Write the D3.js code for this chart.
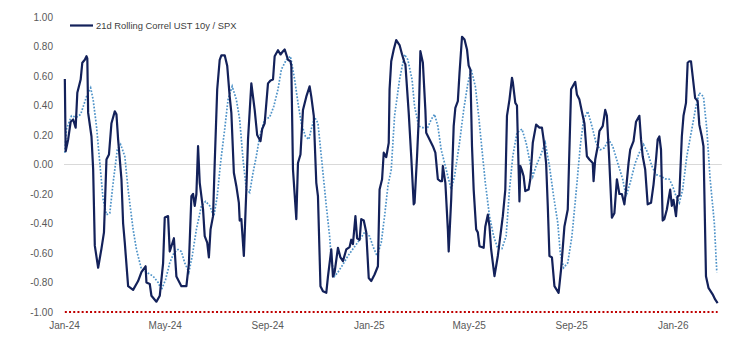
<!DOCTYPE html>
<html>
<head>
<meta charset="utf-8">
<script src="https://cdn.jsdelivr.net/npm/d3@7/dist/d3.min.js"></script>
<style>
  body { margin: 0; background: #ffffff; }
  svg { display: block; }
  text { font-family: "Liberation Sans", Arial, sans-serif; }
</style>
</head>
<body>
<svg id="chart" width="753" height="340"></svg>
<script>
// 21-day rolling correlation, UST 10y vs SPX
const rollingCorr = [
  ["2024-01-02",0.58],["2024-01-03",0.09],["2024-01-06",0.17],["2024-01-09",0.29],["2024-01-12",0.305],
  ["2024-01-15",0.25],["2024-01-17",0.486],["2024-01-21",0.576],["2024-01-23",0.69],["2024-01-26",0.71],
  ["2024-01-28",0.734],["2024-01-29",0.72],["2024-01-30",0.35],["2024-02-03",0.19],["2024-02-05",-0.03],
  ["2024-02-07",-0.55],["2024-02-11",-0.70],["2024-02-15",-0.57],["2024-02-18",-0.46],["2024-02-21",0.034],
  ["2024-02-24",0.068],["2024-02-27",0.28],["2024-03-02",0.36],["2024-03-04",0.34],["2024-03-06",0.17],
  ["2024-03-10",-0.10],["2024-03-12",-0.40],["2024-03-14",-0.53],["2024-03-18",-0.825],["2024-03-24",-0.85],
  ["2024-03-30",-0.79],["2024-04-03",-0.73],["2024-04-08",-0.69],["2024-04-09",-0.80],["2024-04-13",-0.81],
  ["2024-04-15",-0.89],["2024-04-21",-0.93],["2024-04-25",-0.89],["2024-04-29",-0.67],["2024-05-01",-0.36],
  ["2024-05-05",-0.35],["2024-05-07",-0.59],["2024-05-12",-0.50],["2024-05-15",-0.76],["2024-05-21",-0.825],
  ["2024-05-27",-0.825],["2024-05-30",-0.67],["2024-06-02",-0.215],["2024-06-04",-0.20],["2024-06-06",-0.28],
  ["2024-06-08",-0.20],["2024-06-10",0.124],["2024-06-12",-0.124],["2024-06-16",-0.305],["2024-06-18",-0.486],
  ["2024-06-21",-0.53],["2024-06-23",-0.63],["2024-06-25",-0.44],["2024-06-28",-0.35],["2024-06-30",0.01],
  ["2024-07-03",0.51],["2024-07-06",0.71],["2024-07-08",0.74],["2024-07-12",0.74],["2024-07-15",0.67],
  ["2024-07-18",0.46],["2024-07-20",0.35],["2024-07-23",-0.056],["2024-07-26",-0.147],["2024-07-29",-0.26],
  ["2024-07-30",-0.38],["2024-08-01",-0.37],["2024-08-04",-0.62],["2024-08-07",-0.17],["2024-08-09",0.17],
  ["2024-08-13",0.55],["2024-08-15",0.46],["2024-08-17",0.37],["2024-08-20",0.20],["2024-08-24",0.158],
  ["2024-08-26",0.24],["2024-08-29",0.28],["2024-09-02",0.55],["2024-09-05",0.57],["2024-09-08",0.576],
  ["2024-09-10",0.734],["2024-09-14",0.775],["2024-09-17",0.746],["2024-09-20",0.768],["2024-09-22",0.78],
  ["2024-09-26",0.71],["2024-09-29",0.70],["2024-09-30",0.67],["2024-10-02",-0.034],["2024-10-06",-0.37],
  ["2024-10-08",0.01],["2024-10-11",0.068],["2024-10-14",0.37],["2024-10-18",0.46],["2024-10-22",0.53],
  ["2024-10-24",0.46],["2024-10-27",0.33],["2024-10-28",0.17],["2024-10-30",-0.124],["2024-11-01",-0.215],
  ["2024-11-04",-0.825],["2024-11-07",-0.86],["2024-11-11",-0.87],["2024-11-13",-0.76],["2024-11-17",-0.576],
  ["2024-11-19",-0.76],["2024-11-21",-0.73],["2024-11-25",-0.565],["2024-11-28",-0.63],["2024-12-01",-0.655],
  ["2024-12-05",-0.576],["2024-12-09",-0.56],["2024-12-11",-0.51],["2024-12-13",-0.54],["2024-12-16",-0.35],
  ["2024-12-18",-0.50],["2024-12-21",-0.51],["2024-12-23",-0.37],["2024-12-26",-0.38],["2024-12-29",-0.46],
  ["2025-01-01",-0.77],["2025-01-04",-0.79],["2025-01-08",-0.746],["2025-01-12",-0.69],["2025-01-14",-0.17],
  ["2025-01-17",-0.10],["2025-01-19",0.08],["2025-01-22",0.05],["2025-01-25",0.147],["2025-01-26",0.51],
  ["2025-01-28",0.70],["2025-01-31",0.78],["2025-02-03",0.843],["2025-02-07",0.81],["2025-02-10",0.746],
  ["2025-02-13",0.69],["2025-02-14",0.68],["2025-02-18",0.35],["2025-02-21",0.056],["2025-02-24",-0.27],
  ["2025-02-25",-0.26],["2025-02-28",0.056],["2025-03-02",0.305],["2025-03-04",0.768],["2025-03-07",0.69],
  ["2025-03-10",0.37],["2025-03-11",0.215],["2025-03-15",0.17],["2025-03-19",0.124],["2025-03-22",0.08],
  ["2025-03-25",-0.10],["2025-03-28",-0.113],["2025-03-30",-0.113],["2025-03-31",-0.01],["2025-04-03",-0.124],
  ["2025-04-06",-0.44],["2025-04-07",-0.59],["2025-04-10",-0.237],["2025-04-13",0.26],["2025-04-15",0.384],
  ["2025-04-18",0.43],["2025-04-20",0.62],["2025-04-23",0.866],["2025-04-26",0.847],["2025-04-29",0.78],
  ["2025-05-01",0.67],["2025-05-03",0.644],["2025-05-05",0.124],["2025-05-07",-0.17],["2025-05-10",-0.44],
  ["2025-05-12",-0.46],["2025-05-14",-0.554],["2025-05-19",-0.565],["2025-05-21",-0.42],["2025-05-24",-0.34],
  ["2025-05-26",-0.42],["2025-05-28",-0.576],["2025-06-01",-0.757],["2025-06-05",-0.62],["2025-06-08",-0.486],
  ["2025-06-11",-0.35],["2025-06-14",-0.17],["2025-06-16",0.33],["2025-06-19",0.44],["2025-06-22",0.588],
  ["2025-06-23",0.56],["2025-06-26",0.418],["2025-06-28",0.40],["2025-06-30",-0.034],["2025-07-01",-0.25],
  ["2025-07-02",-0.01],["2025-07-04",-0.04],["2025-07-06",-0.08],["2025-07-08",-0.18],["2025-07-12",-0.17],
  ["2025-07-14",-0.10],["2025-07-17",0.147],["2025-07-21",0.27],["2025-07-25",0.25],["2025-07-28",0.25],
  ["2025-07-30",0.17],["2025-08-02",0.01],["2025-08-04",-0.28],["2025-08-06",-0.62],["2025-08-09",-0.63],
  ["2025-08-12",-0.825],["2025-08-17",-0.87],["2025-08-20",-0.71],["2025-08-24",-0.42],["2025-08-28",-0.305],
  ["2025-09-01",0.51],["2025-09-03",0.53],["2025-09-06",0.56],["2025-09-08",0.475],["2025-09-11",0.44],
  ["2025-09-15",0.33],["2025-09-17",0.28],["2025-09-20",0.056],["2025-09-23",0.034],["2025-09-27",0.01],
  ["2025-09-28",-0.113],["2025-09-30",0.034],["2025-10-03",0.124],["2025-10-05",0.226],["2025-10-09",0.26],
  ["2025-10-12",0.37],["2025-10-14",0.33],["2025-10-16",0.124],["2025-10-17",0.01],["2025-10-20",-0.36],
  ["2025-10-23",-0.33],["2025-10-26",-0.10],["2025-10-29",-0.20],["2025-11-01",-0.20],["2025-11-04",-0.27],
  ["2025-11-06",-0.17],["2025-11-09",0.01],["2025-11-11",0.10],["2025-11-15",0.158],["2025-11-18",0.29],
  ["2025-11-22",0.33],["2025-11-24",0.17],["2025-11-26",0.056],["2025-11-29",-0.034],["2025-12-02",-0.27],
  ["2025-12-06",-0.26],["2025-12-09",-0.136],["2025-12-12",0.034],["2025-12-14",0.17],["2025-12-16",0.19],
  ["2025-12-18",0.10],["2025-12-20",-0.38],["2025-12-22",-0.37],["2025-12-25",-0.305],["2025-12-29",-0.17],
  ["2025-12-31",-0.28],["2026-01-02",-0.24],["2026-01-05",-0.35],["2026-01-07",-0.215],["2026-01-09",-0.21],
  ["2026-01-12",0.19],["2026-01-14",0.33],["2026-01-17",0.418],["2026-01-19",0.69],["2026-01-21",0.70],
  ["2026-01-23",0.70],["2026-01-25",0.60],["2026-01-28",0.45],["2026-01-31",0.43],["2026-02-02",0.27],
  ["2026-02-05",0.19],["2026-02-07",0.124],["2026-02-10",-0.757],["2026-02-13",-0.836],["2026-02-18",-0.88],
  ["2026-02-21",-0.915],["2026-02-24",-0.94]
];

// Smoothed correlation (moving average of the rolling series)
const corrAverage = [
  ["2024-01-02",0.08],["2024-01-04",0.24],["2024-01-10",0.33],["2024-01-16",0.32],["2024-01-21",0.34],
  ["2024-01-28",0.46],["2024-02-02",0.52],["2024-02-05",0.44],["2024-02-09",0.26],["2024-02-13",0.01],
  ["2024-02-17",-0.237],["2024-02-21",-0.34],["2024-02-25",-0.33],["2024-02-29",-0.124],["2024-03-05",0.10],
  ["2024-03-09",0.136],["2024-03-14",0.056],["2024-03-18",-0.17],["2024-03-24",-0.44],["2024-03-28",-0.576],
  ["2024-04-03",-0.71],["2024-04-09",-0.73],["2024-04-17",-0.757],["2024-04-23",-0.80],["2024-04-27",-0.85],
  ["2024-05-02",-0.78],["2024-05-07",-0.667],["2024-05-12",-0.60],["2024-05-17",-0.576],["2024-05-21",-0.59],
  ["2024-05-25",-0.667],["2024-05-30",-0.73],["2024-06-03",-0.62],["2024-06-08",-0.44],["2024-06-14",-0.28],
  ["2024-06-19",-0.25],["2024-06-24",-0.28],["2024-06-29",-0.35],["2024-07-03",-0.215],["2024-07-07",0.01],
  ["2024-07-12",0.24],["2024-07-16",0.44],["2024-07-21",0.53],["2024-07-26",0.44],["2024-07-30",0.305],
  ["2024-08-03",0.034],["2024-08-07",-0.17],["2024-08-11",-0.19],["2024-08-15",-0.056],["2024-08-19",0.056],
  ["2024-08-23",0.19],["2024-08-29",0.305],["2024-09-04",0.32],["2024-09-09",0.395],["2024-09-14",0.51],
  ["2024-09-18",0.644],["2024-09-24",0.71],["2024-09-29",0.734],["2024-10-04",0.576],["2024-10-08",0.418],
  ["2024-10-12",0.28],["2024-10-17",0.19],["2024-10-21",0.17],["2024-10-24",0.24],["2024-10-28",0.32],
  ["2024-11-01",0.28],["2024-11-05",0.056],["2024-11-11",-0.28],["2024-11-15",-0.486],["2024-11-17",-0.644],
  ["2024-11-21",-0.757],["2024-11-25",-0.73],["2024-12-01",-0.678],["2024-12-07",-0.62],["2024-12-14",-0.565],
  ["2024-12-21",-0.51],["2024-12-27",-0.46],["2025-01-02",-0.486],["2025-01-06",-0.554],["2025-01-11",-0.62],
  ["2025-01-16",-0.53],["2025-01-20",-0.35],["2025-01-24",-0.147],["2025-01-28",-0.034],["2025-02-01",0.33],
  ["2025-02-07",0.576],["2025-02-13",0.746],["2025-02-17",0.71],["2025-02-22",0.576],["2025-02-25",0.395],
  ["2025-03-02",0.26],["2025-03-07",0.25],["2025-03-12",0.24],["2025-03-17",0.305],["2025-03-21",0.34],
  ["2025-03-25",0.26],["2025-03-29",0.10],["2025-04-04",-0.034],["2025-04-10",-0.17],["2025-04-14",-0.08],
  ["2025-04-20",0.147],["2025-04-25",0.37],["2025-04-30",0.55],["2025-05-04",0.644],["2025-05-09",0.53],
  ["2025-05-13",0.33],["2025-05-17",0.10],["2025-05-21",-0.124],["2025-05-26",-0.35],["2025-05-31",-0.486],
  ["2025-06-05",-0.57],["2025-06-10",-0.57],["2025-06-15",-0.486],["2025-06-19",-0.17],["2025-06-23",0.056],
  ["2025-06-28",0.215],["2025-07-04",0.24],["2025-07-09",0.147],["2025-07-13",0.034],["2025-07-17",-0.08],
  ["2025-07-21",-0.01],["2025-07-26",0.056],["2025-08-01",0.147],["2025-08-06",-0.01],["2025-08-11",-0.215],
  ["2025-08-16",-0.395],["2025-08-19",-0.6],["2025-08-23",-0.70],["2025-08-28",-0.667],["2025-09-02",-0.486],
  ["2025-09-07",-0.19],["2025-09-12",0.124],["2025-09-16",0.305],["2025-09-21",0.36],["2025-09-26",0.26],
  ["2025-10-01",0.147],["2025-10-06",0.10],["2025-10-11",0.113],["2025-10-16",0.17],["2025-10-21",0.124],
  ["2025-10-27",0.01],["2025-11-02",-0.10],["2025-11-06",-0.215],["2025-11-11",-0.124],["2025-11-17",0.01],
  ["2025-11-22",0.08],["2025-11-27",0.136],["2025-12-02",0.08],["2025-12-07",-0.01],["2025-12-12",-0.068],
  ["2025-12-18",-0.08],["2025-12-23",-0.097],["2025-12-28",-0.10],["2026-01-01",-0.147],["2026-01-05",-0.215],
  ["2026-01-09",-0.26],["2026-01-13",-0.17],["2026-01-18",0.056],["2026-01-24",0.24],["2026-01-29",0.395],
  ["2026-02-02",0.486],["2026-02-07",0.46],["2026-02-11",0.24],["2026-02-15",-0.10],["2026-02-20",-0.395],
  ["2026-02-23",-0.73]
];

// Floor of the correlation range
const floorLevel = -1;

const yTickValues = [1, 0.8, 0.6, 0.4, 0.2, 0, -0.2, -0.4, -0.6, -0.8, -1];
const xTickLabels = ["2024-01-01", "2024-05-01", "2024-09-01", "2025-01-01", "2025-05-01", "2025-09-01", "2026-01-01"];
const legendLabel = "21d Rolling Correl UST 10y / SPX";

const parseDate = d3.timeParse("%Y-%m-%d");
const rolling = rollingCorr.map(([d, v]) => ({ date: parseDate(d), value: v }));
const average = corrAverage.map(([d, v]) => ({ date: parseDate(d), value: v }));

const svg = d3.select("#chart");

const x = d3.scaleTime()
  .domain([parseDate("2024-01-01"), parseDate("2026-03-01")])
  .range([64, 721.8]);

const y = d3.scaleLinear()
  .domain([-1, 1])
  .range([312, 17]);

// zero reference line
svg.append("line")
  .attr("x1", x.range()[0]).attr("x2", x.range()[1])
  .attr("y1", y(0)).attr("y2", y(0))
  .attr("stroke", "#d9d9d9")
  .attr("stroke-width", 1);

// y axis labels
const yAxis = d3.axisLeft(y)
  .tickValues(yTickValues)
  .tickFormat(d => d.toFixed(2))
  .tickSize(0)
  .tickPadding(3);
const gy = svg.append("g").attr("transform", "translate(56,0)").call(yAxis);
gy.select(".domain").remove();
gy.selectAll("text")
  .attr("fill", "#595959")
  .style("font-size", "10px")
  .style("font-family", "\"Liberation Sans\", Arial, sans-serif");

// x axis labels
const xAxis = d3.axisBottom(x)
  .tickValues(xTickLabels.map(parseDate))
  .tickFormat(d3.timeFormat("%b-%y"))
  .tickSize(0)
  .tickPadding(10);
const gx = svg.append("g").attr("transform", "translate(0,312)").call(xAxis);
gx.select(".domain").remove();
gx.selectAll("text")
  .attr("fill", "#595959")
  .style("font-size", "10px")
  .style("font-family", "\"Liberation Sans\", Arial, sans-serif");

// red dotted floor at -1.00
const firstDate = rolling[0].date;
const lastDate = rolling[rolling.length - 1].date;
svg.append("path")
  .datum([firstDate, lastDate])
  .attr("d", d3.line().x(d => x(d)).y(() => y(floorLevel)))
  .attr("fill", "none")
  .attr("stroke", "#c00000")
  .attr("stroke-width", 2)
  .attr("stroke-dasharray", "2,2.2");

const line = d3.line()
  .x(d => x(d.date))
  .y(d => y(d.value));

// smoothed series, light blue dotted
svg.append("path")
  .datum(average)
  .attr("d", line)
  .attr("fill", "none")
  .attr("stroke", "#4f93c8")
  .attr("stroke-width", 1.7)
  .attr("stroke-dasharray", "1.7,1.6");

// rolling correlation, navy solid
svg.append("path")
  .datum(rolling)
  .attr("d", line)
  .attr("fill", "none")
  .attr("stroke", "#13215a")
  .attr("stroke-width", 2.2)
  .attr("stroke-linejoin", "round");

// legend
const legend = svg.append("g");
legend.append("line")
  .attr("x1", 70).attr("x2", 93)
  .attr("y1", 25.5).attr("y2", 25.5)
  .attr("stroke", "#13215a")
  .attr("stroke-width", 2.2);
legend.append("text")
  .attr("x", 96).attr("y", 29)
  .attr("fill", "#404040")
  .style("font-size", "9.4px")
  .text(legendLabel);
</script>
</body>
</html>
